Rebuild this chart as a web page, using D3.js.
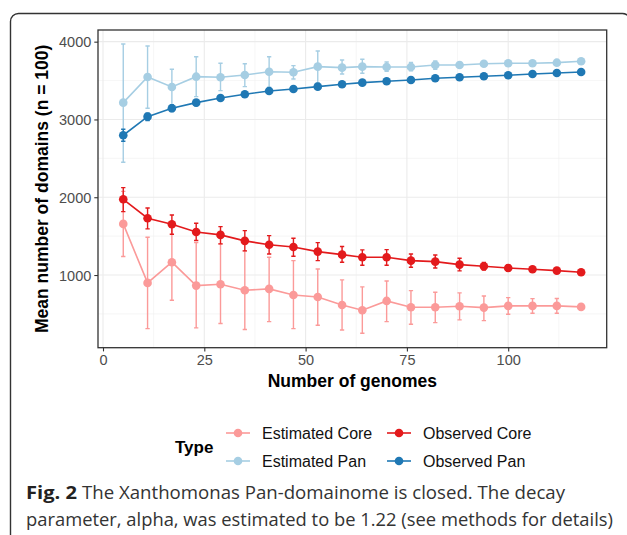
<!DOCTYPE html>
<html>
<head>
<meta charset="utf-8">
<script src="https://cdn.jsdelivr.net/npm/d3@7"></script>
<style>
  body { margin: 0; background: #fff; }
  svg text { font-family: "Liberation Sans", Arial, sans-serif; }
</style>
</head>
<body>
<div id="chart"></div>
<script>
// Data
var genomes = [5, 11, 17, 23, 29, 35, 41, 47, 53, 59, 64, 70, 76, 82, 88, 94, 100, 106, 112, 118];

var estCore   = [1657, 899, 1165, 864, 882, 805, 822, 744, 718, 615, 547, 667, 586, 586, 598, 581, 603, 603, 603, 590];
var estCoreLo = [1239, 311, 675, 320, 376, 299, 401, 311, 355, 294, 252, 401, 367, 388, 423, 414, 496, 509, 508, 590];
var estCoreHi = [2075, 1485, 1655, 1417, 1400, 1310, 1228, 1185, 1078, 937, 847, 924, 799, 778, 770, 731, 710, 697, 698, 590];

var obsCore   = [1974, 1730, 1653, 1554, 1516, 1439, 1389, 1361, 1301, 1262, 1228, 1228, 1185, 1172, 1134, 1113, 1091, 1075, 1057, 1036];
var obsCoreLo = [1815, 1593, 1525, 1443, 1400, 1310, 1271, 1242, 1185, 1164, 1126, 1126, 1100, 1091, 1053, 1063, 1051, 1055, 1042, 1036];
var obsCoreHi = [2124, 1862, 1771, 1666, 1622, 1571, 1507, 1473, 1417, 1366, 1323, 1327, 1271, 1258, 1216, 1163, 1131, 1095, 1072, 1036];

var estPan   = [3216, 3546, 3418, 3550, 3542, 3572, 3614, 3607, 3679, 3666, 3679, 3675, 3675, 3700, 3700, 3717, 3722, 3722, 3730, 3748];
var estPanLo = [2450, 3144, 3180, 3293, 3370, 3422, 3414, 3521, 3470, 3585, 3594, 3620, 3626, 3645, 3675, 3700, 3710, 3712, 3720, 3748];
var estPanHi = [3970, 3945, 3645, 3807, 3722, 3717, 3807, 3692, 3880, 3765, 3774, 3739, 3733, 3752, 3725, 3734, 3734, 3732, 3740, 3748];

var obsPan   = [2797, 3036, 3144, 3216, 3276, 3324, 3366, 3392, 3422, 3452, 3473, 3491, 3508, 3530, 3542, 3555, 3568, 3585, 3598, 3611];
var obsPanLo = [2720, 2985, 3100, 3180, 3255, 3305, 3350, 3382, 3415, 3445, 3468, 3488, 3505, 3527, 3539, 3552, 3566, 3583, 3596, 3611];
var obsPanHi = [2874, 3080, 3185, 3250, 3295, 3345, 3382, 3402, 3430, 3460, 3478, 3495, 3511, 3533, 3545, 3558, 3570, 3587, 3600, 3611];

var typeNames  = ['Estimated Core', 'Estimated Pan', 'Observed Core', 'Observed Pan'];
var typeColors = ['#FB9A99', '#A6CEE3', '#E31A1C', '#1F78B4'];

var xTicks = [0, 25, 50, 75, 100];
var yTicks = [1000, 2000, 3000, 4000];

var caption1Bold = 'Fig. 2';
var caption1 = 'The Xanthomonas Pan-domainome is closed. The decay';
var caption2 = 'parameter, alpha, was estimated to be 1.22 (see methods for details)';

// build series
var seriesVals = [
  [estCore, estCoreLo, estCoreHi],
  [estPan, estPanLo, estPanHi],
  [obsCore, obsCoreLo, obsCoreHi],
  [obsPan, obsPanLo, obsPanHi]
];
var series = typeNames.map(function(name, i) {
  return {
    name: name,
    color: typeColors[i],
    values: genomes.map(function(g, j) {
      return { x: g, y: seriesVals[i][0][j], lo: seriesVals[i][1][j], hi: seriesVals[i][2][j] };
    })
  };
});

var width = 627, height = 535;
var panel = { left: 98, top: 30, right: 606.7, bottom: 347.7 };

var svg = d3.select('#chart').append('svg')
  .attr('width', width)
  .attr('height', height);

// figure frame
svg.append('rect')
  .attr('x', 10.5).attr('y', 13.5)
  .attr('width', 620).attr('height', 600)
  .attr('rx', 8)
  .attr('fill', 'none')
  .attr('stroke', '#333')
  .attr('stroke-width', 1.4);

var x = d3.scaleLinear().domain([-1.234, 124.31]).range([panel.left, panel.right]);
var y = d3.scaleLinear().domain([65.6, 4150]).range([panel.bottom, panel.top]);

var g = svg.append('g');

// grid - minor then major
var xMinor = [12.5, 37.5, 62.5, 87.5, 112.5];
var yMinor = [500, 1500, 2500, 3500];
g.selectAll('.xminor').data(xMinor).enter().append('line')
  .attr('x1', d => x(d)).attr('x2', d => x(d))
  .attr('y1', panel.top).attr('y2', panel.bottom)
  .attr('stroke', '#f0f0f0').attr('stroke-width', 0.6);
g.selectAll('.yminor').data(yMinor).enter().append('line')
  .attr('y1', d => y(d)).attr('y2', d => y(d))
  .attr('x1', panel.left).attr('x2', panel.right)
  .attr('stroke', '#f0f0f0').attr('stroke-width', 0.6);
g.selectAll('.xmajor').data(xTicks).enter().append('line')
  .attr('x1', d => x(d)).attr('x2', d => x(d))
  .attr('y1', panel.top).attr('y2', panel.bottom)
  .attr('stroke', '#ebebeb').attr('stroke-width', 1.1);
g.selectAll('.ymajor').data(yTicks).enter().append('line')
  .attr('y1', d => y(d)).attr('y2', d => y(d))
  .attr('x1', panel.left).attr('x2', panel.right)
  .attr('stroke', '#ebebeb').attr('stroke-width', 1.1);

// error bars
var capHalf = 0.53;
series.forEach(function(s) {
  var eb = g.append('g').attr('stroke', s.color).attr('stroke-width', 1.4).attr('fill', 'none');
  eb.selectAll('path').data(s.values).enter().append('path')
    .attr('d', function(d) {
      var x0 = x(d.x - capHalf), x1 = x(d.x + capHalf), xm = x(d.x);
      return 'M' + x0 + ',' + y(d.hi) + 'H' + x1 +
             'M' + xm + ',' + y(d.hi) + 'V' + y(d.lo) +
             'M' + x0 + ',' + y(d.lo) + 'H' + x1;
    });
});

// lines
var line = d3.line().x(d => x(d.x)).y(d => y(d.y));
series.forEach(function(s) {
  g.append('path')
    .datum(s.values)
    .attr('d', line)
    .attr('fill', 'none')
    .attr('stroke', s.color)
    .attr('stroke-width', 1.6);
});

// points
series.forEach(function(s) {
  g.append('g').selectAll('circle').data(s.values).enter().append('circle')
    .attr('cx', d => x(d.x)).attr('cy', d => y(d.y))
    .attr('r', 4.3)
    .attr('fill', s.color);
});

// panel border
svg.append('rect')
  .attr('x', panel.left).attr('y', panel.top)
  .attr('width', panel.right - panel.left).attr('height', panel.bottom - panel.top)
  .attr('fill', 'none').attr('stroke', '#333').attr('stroke-width', 1.3);

// axes
var xAxis = svg.append('g')
  .attr('transform', 'translate(0,' + panel.bottom + ')')
  .call(d3.axisBottom(x).tickValues(xTicks).tickSize(3.7).tickPadding(3));
var yAxis = svg.append('g')
  .attr('transform', 'translate(' + panel.left + ',0)')
  .call(d3.axisLeft(y).tickValues(yTicks).tickSize(3.7).tickPadding(3).tickFormat(d3.format('d')));
[xAxis, yAxis].forEach(function(a) {
  a.select('.domain').remove();
  a.selectAll('.tick line').attr('stroke', '#333').attr('stroke-width', 1.1);
  a.selectAll('.tick text')
    .attr('fill', '#4d4d4d')
    .style('font-size', '14.5px')
    .style('font-family', '"Liberation Sans", Arial, sans-serif');
});
yAxis.selectAll('.tick text').attr('dy', '0.36em');

// axis titles
svg.append('text')
  .attr('x', (panel.left + panel.right) / 2).attr('y', 387)
  .attr('text-anchor', 'middle')
  .style('font-size', '17.5px').style('font-weight', 'bold')
  .text('Number of genomes');
svg.append('text')
  .attr('transform', 'translate(48,' + ((panel.top + panel.bottom) / 2) + ') rotate(-90)')
  .attr('text-anchor', 'middle')
  .style('font-size', '17.5px').style('font-weight', 'bold')
  .text('Mean number of domains (n = 100)');

// legend
var legend = svg.append('g');
legend.append('text')
  .attr('x', 175).attr('y', 453)
  .style('font-size', '17px').style('font-weight', 'bold')
  .text('Type');
var legPos = [[238, 433], [238, 461], [399, 433], [399, 461]];
series.forEach(function(s, i) {
  var p = legPos[i];
  legend.append('line')
    .attr('x1', p[0] - 12).attr('x2', p[0] + 12)
    .attr('y1', p[1]).attr('y2', p[1])
    .attr('stroke', s.color).attr('stroke-width', 1.6);
  legend.append('circle')
    .attr('cx', p[0]).attr('cy', p[1]).attr('r', 4.3)
    .attr('fill', s.color);
  legend.append('text')
    .attr('x', p[0] + 24).attr('y', p[1] + 5.5)
    .style('font-size', '16px')
    .attr('fill', '#111')
    .text(s.name);
});

// caption
svg.append('text')
  .attr('x', 26).attr('y', 499)
  .attr('textLength', 51).attr('lengthAdjust', 'spacingAndGlyphs')
  .style('font-family', '"Open Sans", "Noto Sans", sans-serif')
  .style('font-size', '18px').style('font-weight', 'bold')
  .attr('fill', '#222')
  .text(caption1Bold);
svg.append('text')
  .attr('x', 82).attr('y', 499)
  .attr('textLength', 483).attr('lengthAdjust', 'spacingAndGlyphs')
  .style('font-family', '"Open Sans", "Noto Sans", sans-serif')
  .style('font-size', '18px')
  .attr('fill', '#333')
  .text(caption1);
svg.append('text')
  .attr('x', 26).attr('y', 526)
  .attr('textLength', 587).attr('lengthAdjust', 'spacingAndGlyphs')
  .style('font-family', '"Open Sans", "Noto Sans", sans-serif')
  .style('font-size', '18px')
  .attr('fill', '#333')
  .text(caption2);
</script>
</body>
</html>
